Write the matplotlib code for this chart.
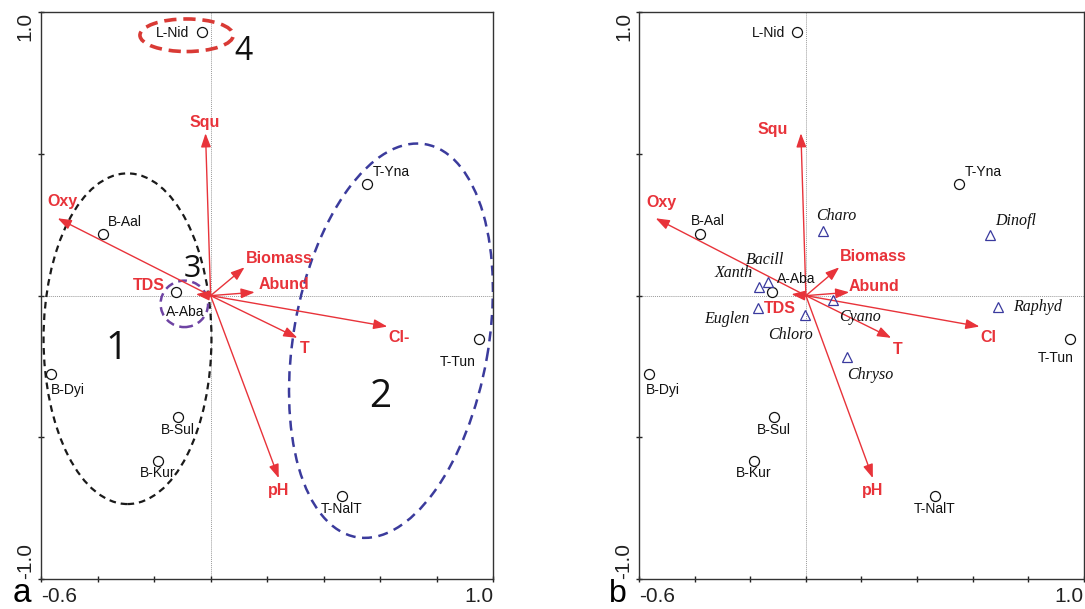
import matplotlib
matplotlib.use('Agg')
import matplotlib.pyplot as plt
from matplotlib.patches import Ellipse

plt.rcParams['font.family'] = ['Liberation Sans', 'DejaVu Sans']

# ===== 1. Data =====
site_names = ['L-Nid', 'B-Aal', 'T-Yna', 'A-Aba', 'T-Tun', 'B-Dyi', 'B-Sul', 'B-Kur', 'T-NalT']
site_x = [-0.032, -0.381, 0.552, -0.123, 0.950, -0.565, -0.116, -0.187, 0.464]
site_y = [0.929, 0.218, 0.393, 0.014, -0.153, -0.276, -0.429, -0.582, -0.708]

env_names_a = ['Squ', 'Oxy', 'Biomass', 'Abund', 'TDS', 'Cl-', 'T', 'pH']
env_names_b = ['Squ', 'Oxy', 'Biomass', 'Abund', 'TDS', 'Cl', 'T', 'pH']
env_x = [-0.018, -0.541, 0.120, 0.156, -0.052, 0.625, 0.307, 0.241]
env_y = [0.573, 0.273, 0.100, 0.012, 0.005, -0.109, -0.149, -0.644]

spec_names = ['Charo', 'Dinofl', 'Bacill', 'Xanth', 'Euglen', 'Chloro', 'Cyano', 'Chryso', 'Raphyd']
spec_x = [0.062, 0.662, -0.135, -0.170, -0.174, -0.003, 0.099, 0.147, 0.692]
spec_y = [0.228, 0.213, 0.047, 0.032, -0.044, -0.068, -0.015, -0.217, -0.041]

# groups on panel a: label, centre x, centre y, width, height, angle
group_labels = ['1', '2', '3', '4']
group_cx = [-0.294, 0.638, -0.093, -0.085]
group_cy = [-0.152, -0.159, -0.029, 0.919]
group_w = [0.594, 1.408, 0.168, 0.330]
group_h = [1.167, 0.689, 0.164, 0.115]
group_ang = [0, 80, 0, 0]

xticks = [-0.6, -0.4, -0.2, 0.0, 0.2, 0.4, 0.6, 0.8, 1.0]
xtick_labels = ['-0.6', '', '', '', '', '', '', '', '1.0']
yticks = [-1.0, -0.5, 0.0, 0.5, 1.0]
ytick_labels = ['-1.0', '', '', '', '1.0']

# ===== 2. Styles / label offsets (points) =====
RED = '#e8333a'
BLUE = '#3a3a9e'
group_colors = ['#1a1a1a', '#3b3b9c', '#6e43a3', '#d93a35']
group_lw = [1.6, 1.8, 1.8, 2.6]
group_dash = [(3, 2.2), (4, 2.6), (3.5, 2.2), (3.4, 1.9)]
num_off = [(-0.037, -0.036), (-0.039, -0.200), (0.030, 0.123), (0.203, -0.058)]
num_size = [28, 28, 22, 23]

site_off_a = [(-20.7, -0.7), (15.6, 8.9), (17.4, 9.1), (7, -14.4), (-15.3, -16.3),
              (12.4, -11.5), (0.3, -9.1), (0, -9.1), (0, -9.1)]
site_off_b = [(-20.7, -0.7), (5.3, 9.4), (17.3, 9.1), (17.6, 8.9), (-10, -13.9),
              (9.7, -11.5), (0, -9.1), (0, -9.1), (0, -9.1)]
env_off_a = [(-0.5, 7.6), (3.7, 12), (25, 6.5), (21.1, 5.3), (-33.6, 6.5),
             (8.6, -7.9), (5.4, -7.4), (0, -8.9)]
env_off_b = [(-20, 2.4), (4.5, 11.2), (24.4, 7.6), (17.9, 4), (-8.1, -10.3),
             (6.2, -7.9), (4.9, -8.1), (0, -8.9)]
spec_off = [(9.7, 10.8), (18.7, 10.1), (-2.4, 16), (-18, 9.6), (-22, -7.9),
            (-10.3, -14.4), (19.2, -12.5), (16.8, -12.7), (28.3, 0.4)]

fig = plt.figure(figsize=(10.85, 6.09), dpi=100)
H = 609.0
W = 1085.0
axA = fig.add_axes([41 / W, 1 - 579 / H, (493.3 - 41) / W, (579 - 12.3) / H])
axB = fig.add_axes([639.3 / W, 1 - 579 / H, (1083.6 - 639.3) / W, (579 - 12.3) / H])


def base(ax):
    ax.set_xlim(-0.6, 1.0)
    ax.set_ylim(-1.0, 1.0)
    ax.axhline(0, color='#9a9a9a', lw=0.7, ls=(0, (1, 1)), zorder=1)
    ax.axvline(0, color='#9a9a9a', lw=0.7, ls=(0, (1, 1)), zorder=1)
    ax.set_xticks(xticks, xtick_labels)
    ax.set_yticks(yticks, ytick_labels, rotation=90, va='center')
    ax.tick_params(direction='inout', length=5, width=1.0, labelsize=15, colors='#222222')
    ax.tick_params(axis='x', pad=3)
    ax.tick_params(axis='y', pad=2)
    xl = ax.get_xticklabels()
    xl[0].set_ha('left')
    xl[-1].set_ha('right')
    yl = ax.get_yticklabels()
    yl[0].set_va('bottom')
    yl[-1].set_va('top')
    for s in ax.spines.values():
        s.set_color('#333333')
        s.set_linewidth(1.0)


def sites(ax, offs):
    ax.plot(site_x, site_y, 'o', ms=7.2, mfc='white', mec='#111111', mew=0.9, zorder=4)
    for n, x, y, o in zip(site_names, site_x, site_y, offs):
        ax.annotate(n, (x, y), xytext=o, textcoords='offset points', ha='center', va='center',
                    fontsize=10, color='#111111', zorder=5)


def arrows(ax, names, offs):
    for n, x, y, o in zip(names, env_x, env_y, offs):
        ax.annotate('', xy=(x, y), xytext=(0, 0),
                    arrowprops=dict(arrowstyle='-|>,head_length=0.55,head_width=0.2',
                                    mutation_scale=15, color=RED, lw=1.0,
                                    shrinkA=0, shrinkB=0), zorder=3)
        ax.annotate(n, (x, y), xytext=o, textcoords='offset points', ha='center', va='center',
                    fontsize=11.5, fontweight='bold', color=RED, zorder=5)


# ===== 3. Panel a =====
base(axA)
for i in range(len(group_labels)):
    e = Ellipse((group_cx[i], group_cy[i]), group_w[i], group_h[i], angle=group_ang[i],
                fill=False, edgecolor=group_colors[i], lw=group_lw[i],
                linestyle=(0, group_dash[i]), zorder=2)
    axA.add_patch(e)
    axA.text(group_cx[i] + num_off[i][0], group_cy[i] + num_off[i][1], group_labels[i],
             fontsize=num_size[i], ha='center', va='center', color='#111111',
             family='Open Sans', zorder=5)
sites(axA, site_off_a)
arrows(axA, env_names_a, env_off_a)

# ===== 4. Panel b =====
base(axB)
sites(axB, site_off_b)
axB.plot(spec_x, spec_y, '^', ms=6.5, mfc='none', mec=BLUE, mew=0.9, zorder=4)
for n, x, y, o in zip(spec_names, spec_x, spec_y, spec_off):
    axB.annotate(n, (x, y), xytext=o, textcoords='offset points', ha='center', va='center',
                 fontsize=11.5, style='italic', family='Liberation Serif', color='#111111', zorder=5)
arrows(axB, env_names_b, env_off_b)

fig.text(22.2 / W, 1 - 602 / H, 'a', fontsize=24, ha='center', va='baseline')
fig.text(617.5 / W, 1 - 602 / H, 'b', fontsize=23, ha='center', va='baseline')

fig.savefig('out.png', dpi=100)
